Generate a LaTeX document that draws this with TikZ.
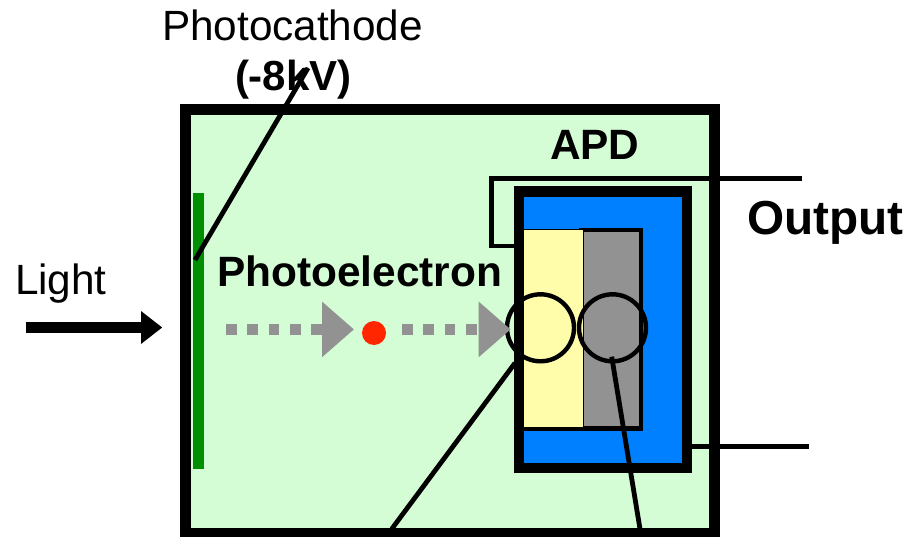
\documentclass[tikz,border=0pt]{standalone}
\usepackage{fontspec}
\setmainfont{Liberation Sans}
\usetikzlibrary{arrows.meta}
\definecolor{tubegreen}{HTML}{D5FDD5}
\definecolor{cathode}{HTML}{008F00}
\definecolor{apdblue}{HTML}{0080FF}
\definecolor{apdyellow}{HTML}{FFFDAA}
\definecolor{apdgrey}{HTML}{929292}
\definecolor{electron}{HTML}{FF2600}
\tikzset{
  panel/.style={rectangle,inner sep=0pt,outer sep=0pt,anchor=north west},
  wire/.style={line width=4.8pt,black,line join=miter},
  ring/.style={circle,draw=black,line width=4.4pt,minimum size=67pt,inner sep=0pt,outer sep=0pt},
  label/.style={inner sep=0pt,outer sep=0pt,anchor=base west,text=black},
  drift/.style={line width=10.7pt,apdgrey,dash pattern=on 10.7pt off 10.6pt,
    -{Triangle[length=32pt,width=53.5pt]}},
  beam/.style={line width=10.4pt,black,-{Triangle[length=21.3pt,width=31.5pt]}}
}
\begin{document}
\begin{tikzpicture}[x=1pt,y=-1pt]
\useasboundingbox (0,0) rectangle (909,537);
\clip (0,0) rectangle (909,537);
% tube
\node[panel,draw=black,fill=tubegreen,line width=11pt,minimum width=529.3pt,minimum height=424pt] (tube) at (185.5,109.5) {};
% cathode
\node[panel,fill=cathode,minimum width=10.5pt,minimum height=276.6pt] (cathodebar) at (193,192.7) {};
% APD housing
\node[panel,draw=black,fill=apdblue,line width=10.4pt,minimum width=168pt,minimum height=276.4pt] (apd) at (519.2,191.7) {};
% absorption and multiplication layers
\node[panel,draw=black,fill=apdgrey,line width=4.6pt,minimum width=59.5pt,minimum height=198.6pt] (grey) at (581.5,230) {};
\node[panel,fill=black,minimum width=58.4pt,minimum height=201.6pt] (yellowedge) at (524.3,229.2) {};
\node[panel,fill=apdyellow,minimum width=58.4pt,minimum height=196.7pt] (yellow) at (524.3,230) {};
% circles
\node[ring] (ringL) at (540.5,327.8) {};
\node[ring] (ringR) at (612.5,327.8) {};
% coordinates
\coordinate (outA) at (802,178.3);
\coordinate (outB) at (491.7,178.3);
\coordinate (outC) at (491.7,246);
\coordinate (outD) at (513.5,246);
\coordinate (biasA) at (692,446.8);
\coordinate (biasB) at (809,446.8);
\coordinate (leadLa) at (515,363);
\coordinate (leadLb) at (391.7,529);
\coordinate (leadRa) at (611.7,356.7);
\coordinate (leadRb) at (640,529);
\coordinate (leadCa) at (308,68);
\coordinate (leadCb) at (195,260);
\coordinate (beamA) at (26,327.5);
\coordinate (beamB) at (162.3,327.5);
\coordinate (driftA) at (226,329.4);
\coordinate (driftB) at (354,329.4);
\coordinate (driftC) at (402,329.4);
\coordinate (driftD) at (510.7,329.4);
% connectors
\draw[wire] (outA) -- (outB) -- (outC) -- (outD);
\draw[wire] (biasA) -- (biasB);
\draw[wire] (leadLa) -- (leadLb);
\draw[wire] (leadRa) -- (leadRb);
% electron and drift
\draw[drift] (driftA) -- (driftB);
\draw[drift] (driftC) -- (driftD);
\node[circle,fill=electron,minimum size=24pt,inner sep=0pt,outer sep=0pt] (pe) at (374,333) {};
\draw[beam] (beamA) -- (beamB);
% labels
\node[label,font=\fontsize{42.3}{42.3}\selectfont] (lblcathode) at (162,40.7) {Photocathode};
\node[label,font=\fontsize{42}{42}\selectfont\bfseries] (lblkv) at (235,91) {(-8kV)};
\node[label,font=\fontsize{42.4}{42.4}\selectfont\bfseries] (lblpe) at (217,286.7) {Photoelectron};
\node[label,font=\fontsize{42.4}{42.4}\selectfont\bfseries] (lblapd) at (550,159.5) {APD};
\node[label,font=\fontsize{47.7}{47.7}\selectfont\bfseries] (lblout) at (747,234) {Output};
\node[label,font=\fontsize{42.3}{42.3}\selectfont] (lbllight) at (15,294) {Light};
\draw[wire] (leadCa) -- (leadCb);
\end{tikzpicture}
\end{document}
